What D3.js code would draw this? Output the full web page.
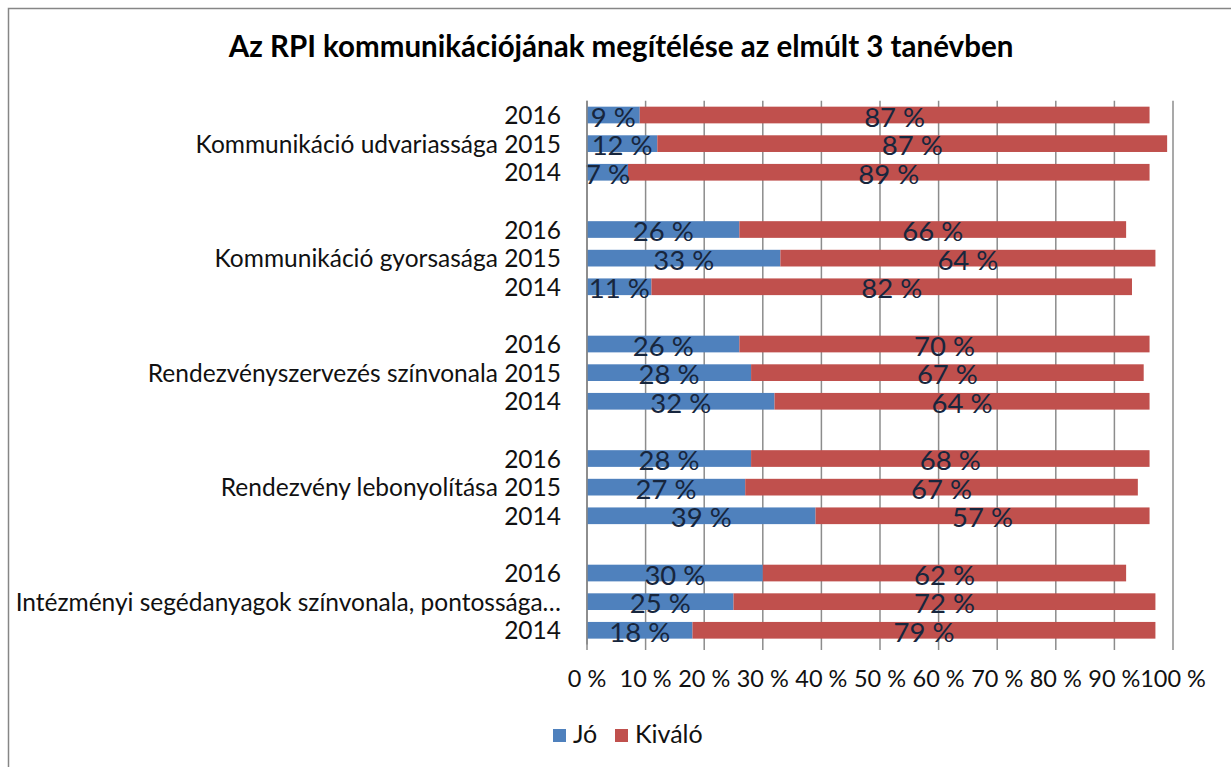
<!DOCTYPE html>
<html>
<head>
<meta charset="utf-8">
<script src="https://cdn.jsdelivr.net/npm/d3@7"></script>
<style>
  body { margin: 0; background: #fff; }
  text { font-family: Lato, "Open Sans", sans-serif; }
</style>
</head>
<body>
<svg width="1231" height="767"></svg>
<script>
// **** data ****
var categories = [
    "Kommunikáció udvariassága",
    "Kommunikáció gyorsasága",
    "Rendezvényszervezés színvonala",
    "Rendezvény lebonyolítása",
    "Intézményi segédanyagok színvonala, pontossága…"
];
var years = ["2016", "2015", "2014"];
// per category: [2016, 2015, 2014]
var joValues = [[9, 12, 7], [26, 33, 11], [26, 28, 32], [28, 27, 39], [30, 25, 18]];
var kivaloValues = [[87, 87, 89], [66, 64, 82], [70, 67, 64], [68, 67, 57], [62, 72, 79]];
var seriesNames = ["Jó", "Kiváló"];
var tickValues = [0, 10, 20, 30, 40, 50, 60, 70, 80, 90, 100];

var colors = ["#4F81BD", "#C0504D"];

// build rows, with an empty slot between groups
var rows = [];
categories.forEach(function(cat, ci) {
    years.forEach(function(y, yi) {
        var label = y;
        if (yi == 1) {
            label = ci == categories.length - 1 ? cat : cat + " " + y;
        }
        rows.push({ key: ci + "-" + y, label: label, jo: joValues[ci][yi], kivalo: kivaloValues[ci][yi] });
    });
    if (ci < categories.length - 1) rows.push({ key: "gap" + ci, label: "", gap: true });
});

var svg = d3.select("svg");

// outer frame
svg.append("rect")
    .attr("x", 8.5).attr("y", 8.5)
    .attr("width", 1240).attr("height", 800)
    .attr("fill", "none")
    .attr("stroke", "#868686")
    .attr("stroke-width", 1.5);

svg.append("text")
    .attr("x", 621).attr("y", 57)
    .attr("text-anchor", "middle")
    .style("font-weight", "bold")
    .style("font-size", "29.5px")
    .text("Az RPI kommunikációjának megítélése az elmúlt 3 tanévben");

var xScale = d3.scaleLinear().domain([0, 100]).range([587, 1173]);
var yScale = d3.scaleBand()
    .domain(rows.map(function(d) { return d.key; }))
    .range([100.7, 644.6])
    .paddingInner(0.417).paddingOuter(0.2085);

// gridlines + tick marks
svg.append("g")
    .selectAll("line")
    .data(tickValues)
    .enter()
    .append("line")
    .attr("x1", function(d) { return xScale(d); })
    .attr("x2", function(d) { return xScale(d); })
    .attr("y1", 100.7)
    .attr("y2", 650)
    .attr("stroke", "#8c8c8c")
    .attr("stroke-width", 1.5);

// x tick labels
svg.append("g")
    .selectAll("text")
    .data(tickValues)
    .enter()
    .append("text")
    .attr("x", function(d) { return xScale(d); })
    .attr("y", 687)
    .attr("text-anchor", "middle")
    .style("font-size", "23.5px")
    .style("fill", "#111")
    .text(function(d) { return d + " %"; });

var bars = rows.filter(function(d) { return !d.gap; });

var groups = svg.selectAll("g.row")
    .data(bars)
    .enter()
    .append("g")
    .attr("class", "row")
    .attr("transform", function(d) { return "translate(0," + (yScale(d.key) + yScale.bandwidth() / 2) + ")"; });

var bh = yScale.bandwidth();

groups.append("rect")
    .attr("x", xScale(0))
    .attr("y", -bh / 2)
    .attr("width", function(d) { return xScale(d.jo) - xScale(0); })
    .attr("height", bh)
    .attr("fill", colors[0]);

groups.append("rect")
    .attr("x", function(d) { return xScale(d.jo); })
    .attr("y", -bh / 2)
    .attr("width", function(d) { return xScale(d.jo + d.kivalo) - xScale(d.jo); })
    .attr("height", bh)
    .attr("fill", colors[1]);

groups.append("text")
    .attr("x", function(d) { return xScale(d.jo / 2); })
    .attr("y", 11.7)
    .attr("text-anchor", "middle")
    .style("font-size", "27.5px")
    .style("fill", "#17263d")
    .text(function(d) { return d.jo + " %"; });

groups.append("text")
    .attr("x", function(d) { return xScale(d.jo + d.kivalo / 2); })
    .attr("y", 11.7)
    .attr("text-anchor", "middle")
    .style("font-size", "27.5px")
    .style("fill", "#17263d")
    .text(function(d) { return d.kivalo + " %"; });

// category labels
groups.append("text")
    .attr("x", 561)
    .attr("y", 9)
    .attr("text-anchor", "end")
    .style("font-size", "24.5px")
    .style("fill", "#111")
    .text(function(d) { return d.label; });

// vertical axis line
svg.append("line")
    .attr("x1", xScale(0)).attr("x2", xScale(0))
    .attr("y1", 100.7).attr("y2", 644.6)
    .attr("stroke", "#868686")
    .attr("stroke-width", 1.5);

// legend
var legend = svg.append("g").attr("transform", "translate(553,729)");
seriesNames.forEach(function(name, i) {
    var lx = i * 62;
    legend.append("rect")
        .attr("x", lx).attr("y", 0)
        .attr("width", 13).attr("height", 13)
        .attr("fill", colors[i]);
    legend.append("text")
        .attr("x", lx + 20).attr("y", 14)
        .style("font-size", "25px")
        .style("fill", "#111")
        .text(name);
});
</script>
</body>
</html>
